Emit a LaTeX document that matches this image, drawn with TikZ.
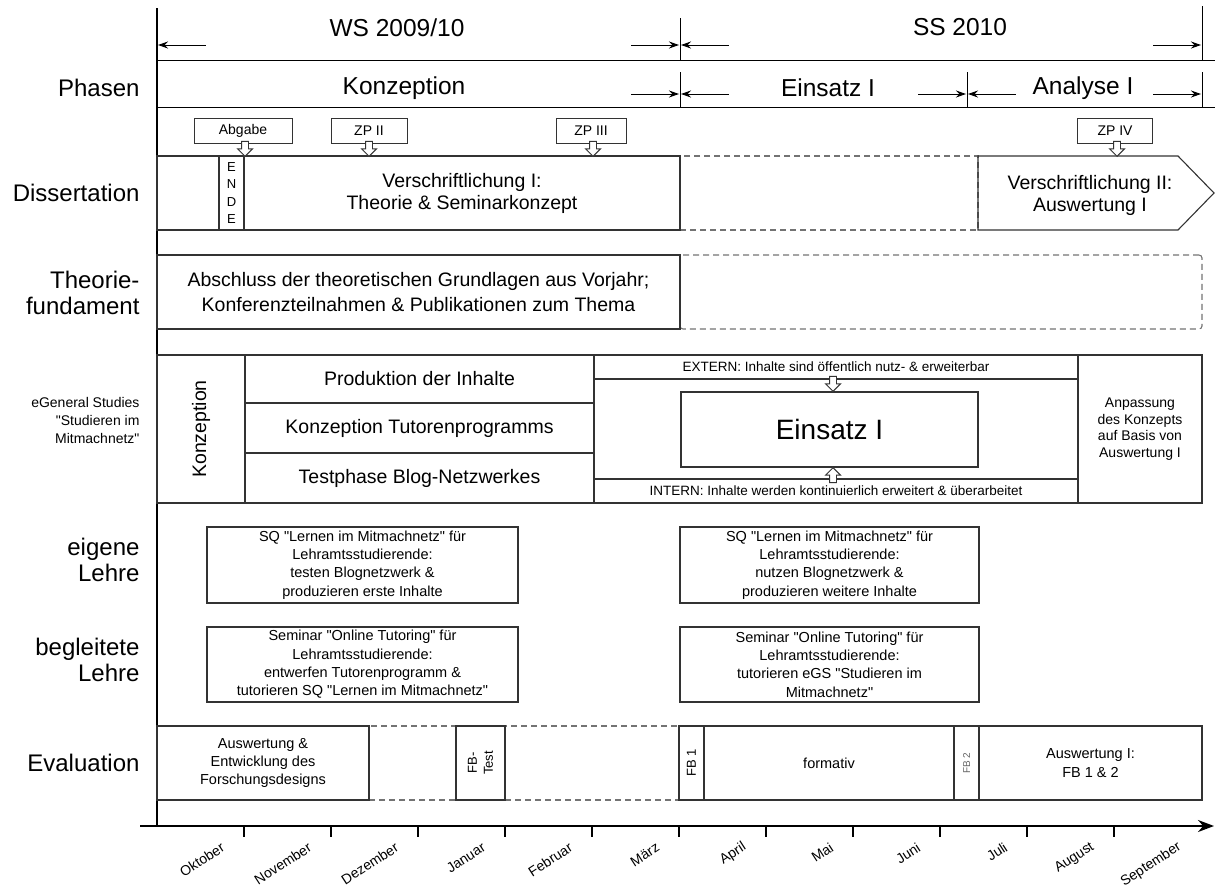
\documentclass[tikz,border=0pt]{standalone}
\usepackage{fontspec}
\setmainfont{Liberation Sans}
\usetikzlibrary{arrows.meta,positioning,shapes.arrows}
\newcommand{\qq}[1]{\textquotedbl#1\textquotedbl}

\begin{document}
\begin{tikzpicture}[
  x=1pt, y=-1pt, >=Stealth,
  row/.style={anchor=east, align=right, font=\fontsize{24}{26}\selectfont},
  phase/.style={font=\fontsize{24.5}{28}\selectfont},
  box/.style={draw=black!80, line width=1.1pt, inner sep=0pt, align=center, font=\fontsize{19.5}{22}\selectfont},
  gap/.style={box, draw=black!55, dash pattern=on 6pt off 4pt},
  small/.style={box, font=\fontsize{14.5}{18.3}\selectfont},
  tiny/.style={inner sep=0pt, align=center, font=\fontsize{13}{16}\selectfont},
  size/.style args={#1/#2}{minimum width=#1pt, minimum height=#2pt},
  bubble/.style={draw=black!80, line width=0.9pt, inner sep=0pt, minimum height=25pt, font=\fontsize{14}{16}\selectfont},
  pointer/.style={single arrow, draw=black!80, fill=white, line width=0.9pt, inner sep=3pt, single arrow head extend=4pt, minimum height=15pt, shape border rotate=270, anchor=tip},
  span/.style={line width=1pt, arrows={Stealth[length=10pt,width=7pt]-}},
  tick/.style={line width=1pt},
  month/.style={anchor=east, rotate=33, inner sep=0pt, font=\fontsize{14}{16}\selectfont}
]
\useasboundingbox (0,0) rectangle (1215,894);

% axes
\draw[line width=2.5pt] (157,8) -- (157,827);
\draw[line width=2pt, arrows={-Stealth[length=16pt,width=12pt]}] (140,826) -- (1214,826);
\foreach \i in {1,...,11} \draw[line width=1.5pt] ({157+87*\i},826) -- ++(0,11);

% semesters
\node[phase] (ws) at (397,28) {WS 2009/10};
\node[phase] (ss) at (960,27) {SS 2010};
\draw[tick] (680,18) -- (680,60) (1202,6) -- (1202,60);
\draw[span] (158,45) -- (206,45);
\draw[span] (679,45) -- (631,45);
\draw[span] (681,45) -- (729,45);
\draw[span] (1201,45) -- (1153,45);
\draw[line width=1pt] (157,60) -- (1215,60);

% phases
\node[row] (lphase) at (143,88) {Phasen};
\node[phase] (pkonz) at (404,88) {Konzeption};
\node[phase] (peins) at (828,88) {Einsatz I};
\node[phase] (pana) at (1083,88) {Analyse I};
\draw[tick] (680,72) -- (680,107) (967,72) -- (967,107) (1202,72) -- (1202,107);
\draw[span] (679,94) -- (631,94);
\draw[span] (681,94) -- (729,94);
\draw[span] (966,94) -- (918,94);
\draw[span] (968,94) -- (1016,94);
\draw[span] (1201,94) -- (1153,94);
\draw[line width=1pt] (157,107) -- (1215,107);

% Dissertation
\node[row] (ldiss) at (143,193) {Dissertation};
\node[gap, size=298/74] (dgap) at (829,193) {};
\node[box, size=62/74] (dpre) at (188,193) {};
\node[box, size=25/74, font=\fontsize{13}{17.5}\selectfont] (ende) at (231.5,193) {E\\N\\D\\E};
\node[box, size=436/74] (vs1) at (462,193) {Verschriftlichung I:\\Theorie \& Seminarkonzept};
\draw[draw=black!80, line width=1.1pt] (978,156) -- (1178,156) -- (1214,193) -- (1178,230) -- (978,230) -- cycle;
\node[align=center, font=\fontsize{19.5}{22}\selectfont] (vs2) at (1090,195) {Verschriftlichung II:\\Auswertung I};

\node[bubble, minimum width=98pt] (abg) at (243,130.5) {Abgabe};
\node[bubble, minimum width=76pt] (zp2) at (369,130.5) {ZP II};
\node[bubble, minimum width=70pt] (zp3) at (591,130.5) {ZP III};
\node[bubble, minimum width=75pt] (zp4) at (1115,130.5) {ZP IV};
\node[pointer] (pabg) at (245,157) {};
\node[pointer] (pzp2) at (369,157) {};
\node[pointer] (pzp3) at (593,157) {};
\node[pointer] (pzp4) at (1117,157) {};

% Theoriefundament
\node[row] (ltheo) at (143,293) {Theorie-\\fundament};
\node[gap, rounded corners=3pt, size=522/74] (tgap) at (941,292) {};
\node[box, size=523/74, font=\fontsize{19.5}{25}\selectfont] (theo) at (418.5,292) {Abschluss der theoretischen Grundlagen aus Vorjahr;\\Konferenzteilnahmen \& Publikationen zum Thema};

% eGeneral Studies
\node[row, font=\fontsize{14}{18}\selectfont] (legs) at (143,420) {eGeneral Studies\\\qq{Studieren im\\Mitmachnetz}};
\node[box, size=88/148] (ekonz) at (201,429) {};
\node[rotate=90, font=\fontsize{19.5}{22}\selectfont] (ekonzt) at (ekonz.center) {Konzeption};
\node[box, size=349/48] (prod) at (419.5,379) {Produktion der Inhalte};
\node[box, size=349/50] (tut) at (419.5,428) {Konzeption Tutorenprogramms};
\node[box, size=349/50] (blog) at (419.5,478) {Testphase Blog-Netzwerkes};
\node[box, size=484/148] (eframe) at (836,429) {};
\node[box, size=484/24, font=\fontsize{13.5}{16}\selectfont] (ext) at (836,367) {EXTERN: Inhalte sind öffentlich nutz- \& erweiterbar};
\node[box, size=484/24, font=\fontsize{13.5}{16}\selectfont] (int) at (836,491) {INTERN: Inhalte werden kontinuierlich erweitert \& überarbeitet};
\node[box, size=297/75, font=\fontsize{28}{32}\selectfont] (eins) at (829.5,429.5) {Einsatz I};
\node[small, size=124/148, font=\fontsize{14}{16.5}\selectfont] (anp) at (1140,429) {Anpassung\\des Konzepts\\auf Basis von\\Auswertung I};
\node[pointer] (pext) at (833,392) {};
\node[pointer, shape border rotate=90] (pint) at (833,467) {};

% Lehre
\node[row] (leig) at (143,560) {eigene\\Lehre};
\node[small, size=311/76] (sq1) at (362.5,565) {SQ \qq{Lernen im Mitmachnetz} für\\Lehramtsstudierende:\\testen Blognetzwerk \&\\produzieren erste Inhalte};
\node[small, size=299/76] (sq2) at (829.5,565) {SQ \qq{Lernen im Mitmachnetz} für\\Lehramtsstudierende:\\nutzen Blognetzwerk \&\\produzieren weitere Inhalte};
\node[row] (lbeg) at (143,660) {begleitete\\Lehre};
\node[small, size=311/75] (ot1) at (362.5,664.5) {Seminar \qq{Online Tutoring} für\\Lehramtsstudierende:\\entwerfen Tutorenprogramm \&\\tutorieren SQ \qq{Lernen im Mitmachnetz}};
\node[small, size=299/75] (ot2) at (829.5,664.5) {Seminar \qq{Online Tutoring} für\\Lehramtsstudierende:\\tutorieren eGS \qq{Studieren im\\Mitmachnetz}};

% Evaluation
\node[row] (leval) at (143,763) {Evaluation};
\node[gap, size=87/74] (egap1) at (412.5,763) {};
\node[gap, size=174/74] (egap2) at (592,763) {};
\node[small, size=212/74] (ausw) at (263,763) {Auswertung \&\\Entwicklung des\\Forschungsdesigns};
\node[box, size=49/74] (fbt) at (480.5,763) {};
\node[tiny, rotate=90] (fbtt) at (fbt.center) {FB-\\Test};
\node[box, size=25/74] (fb1) at (691.5,763) {};
\node[tiny, rotate=90] (fb1t) at (fb1.center) {FB 1};
\node[small, size=250/74] (form) at (829,763) {formativ};
\node[box, size=25/74] (fb2) at (966.5,763) {};
\node[tiny, rotate=90, text=black!60, font=\fontsize{10}{12}\selectfont] (fb2t) at (fb2.center) {FB 2};
\node[small, size=223/74] (ausw1) at (1090.5,763) {Auswertung I:\\FB 1 \& 2};

% Monate
\foreach \m [count=\i from 0] in {Oktober,November,Dezember,Januar,Februar,März,April,Mai,Juni,Juli,August,September}
  \node[month] (mon\i) at ({157+87*\i+66},846) {\m};
\end{tikzpicture}
\end{document}
